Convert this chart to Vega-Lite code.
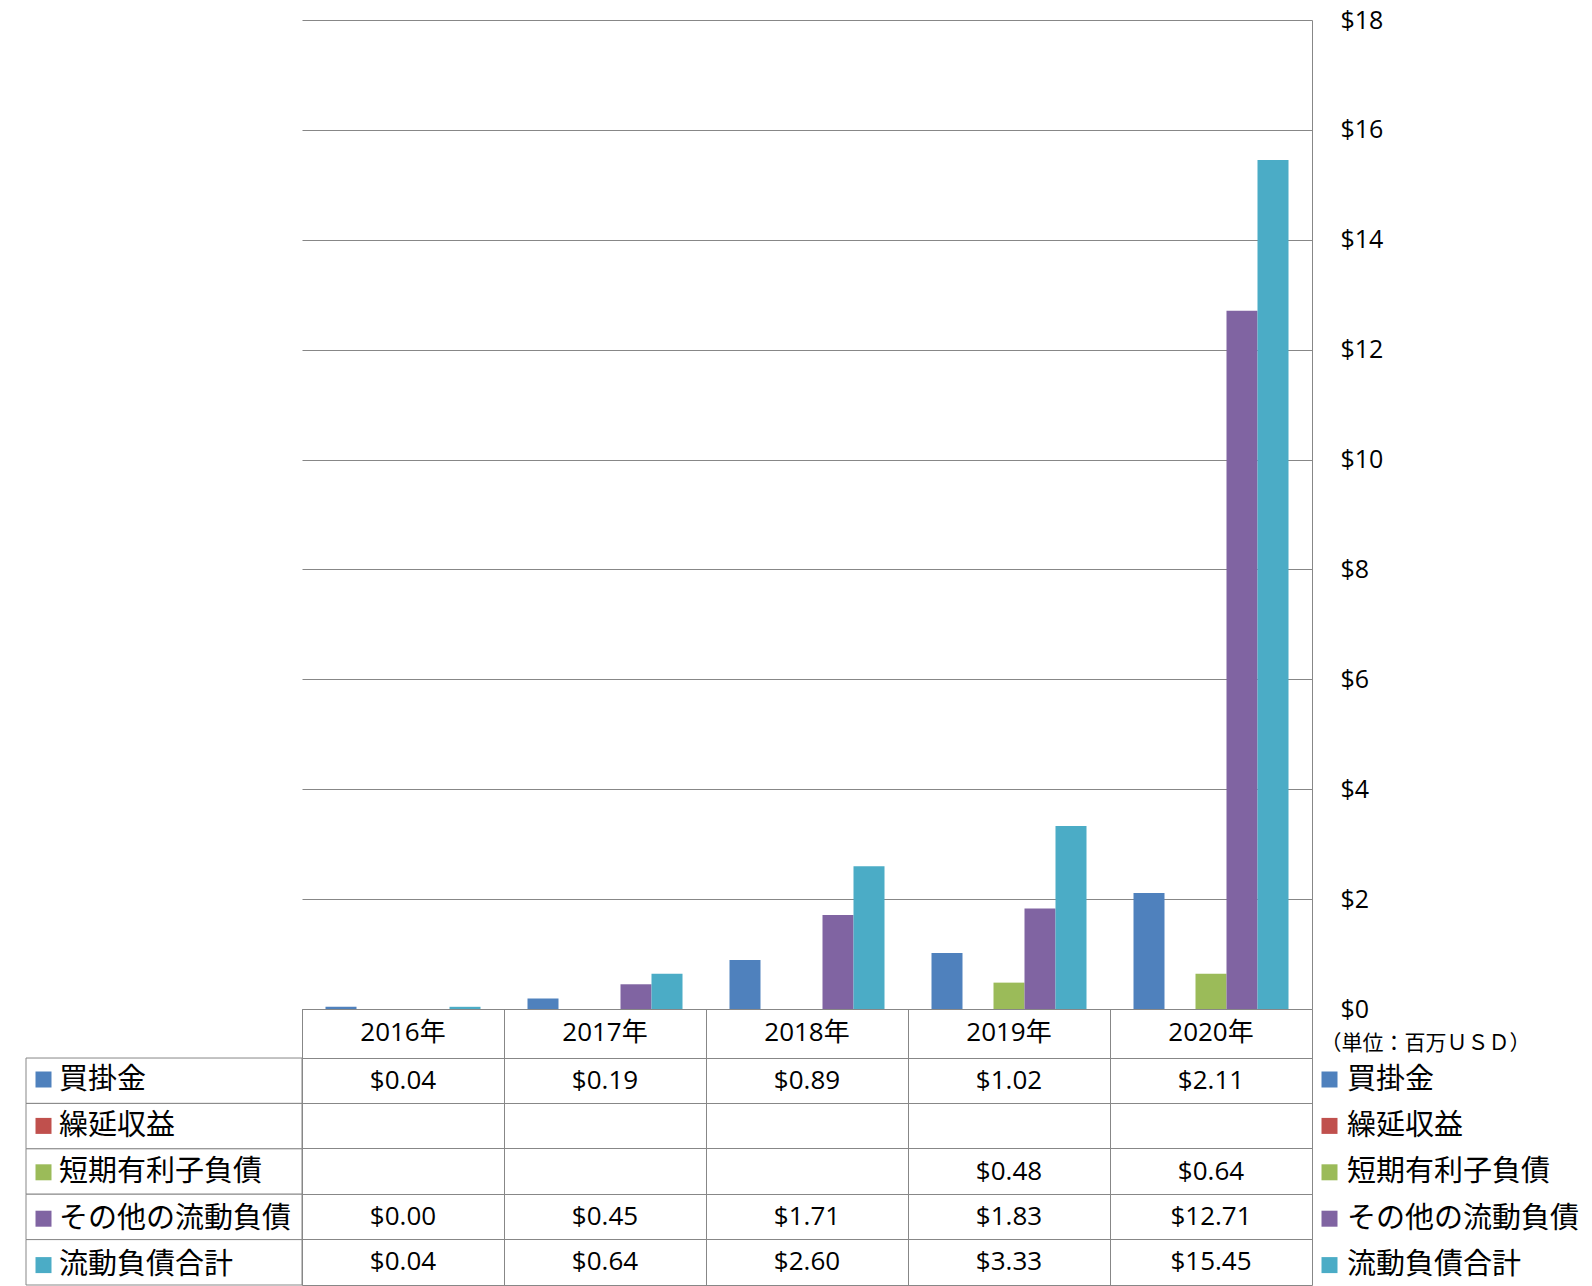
{
  "$schema": "https://vega.github.io/schema/vega-lite/v6.json",
  "padding": {"left": 25, "top": 8, "right": 0, "bottom": 2},
  "background": "white",
  "config": {
    "font": "Open Sans, Noto Sans CJK JP",
    "view": {"stroke": null},
    "axis": {"labelColor": "black", "titleColor": "black"}
  },
  "datasets": {
    "fin": [
      {"year": "2016年", "series": "買掛金", "value": 0.04},
      {"year": "2016年", "series": "その他の流動負債", "value": 0.0},
      {"year": "2016年", "series": "流動負債合計", "value": 0.04},
      {"year": "2017年", "series": "買掛金", "value": 0.19},
      {"year": "2017年", "series": "その他の流動負債", "value": 0.45},
      {"year": "2017年", "series": "流動負債合計", "value": 0.64},
      {"year": "2018年", "series": "買掛金", "value": 0.89},
      {"year": "2018年", "series": "その他の流動負債", "value": 1.71},
      {"year": "2018年", "series": "流動負債合計", "value": 2.6},
      {"year": "2019年", "series": "買掛金", "value": 1.02},
      {"year": "2019年", "series": "短期有利子負債", "value": 0.48},
      {"year": "2019年", "series": "その他の流動負債", "value": 1.83},
      {"year": "2019年", "series": "流動負債合計", "value": 3.33},
      {"year": "2020年", "series": "買掛金", "value": 2.11},
      {"year": "2020年", "series": "短期有利子負債", "value": 0.64},
      {"year": "2020年", "series": "その他の流動負債", "value": 12.71},
      {"year": "2020年", "series": "流動負債合計", "value": 15.45}
    ],
    "rows": [
      {"series": "買掛金"},
      {"series": "繰延収益"},
      {"series": "短期有利子負債"},
      {"series": "その他の流動負債"},
      {"series": "流動負債合計"}
    ]
  },
  "columns": 2,
  "align": "each",
  "bounds": "flush",
  "spacing": 0,
  "resolve": {"scale": {"color": "independent"}, "legend": {"color": "independent"}},
  "concat": [
    {
      "width": 276,
      "height": 989,
      "view": {"stroke": null},
      "data": {"values": []},
      "mark": {"type": "text"},
      "encoding": {}
    },
    {
      "width": 1010,
      "height": 989,
      "view": {"stroke": null},
      "data": {"name": "fin"},
      "mark": {"type": "bar"},
      "encoding": {
        "x": {
          "field": "year", "type": "nominal",
          "scale": {"type": "band", "domain": ["2016年", "2017年", "2018年", "2019年", "2020年"], "paddingInner": 0, "paddingOuter": 0},
          "axis": {"orient": "bottom", "title": null, "domain": false, "ticks": false, "grid": false, "labelAngle": 0, "labelPadding": 10, "labelFontSize": 26, "labelColor": "black"}
        },
        "xOffset": {
          "field": "series", "type": "nominal",
          "scale": {"domain": ["買掛金", "繰延収益", "短期有利子負債", "その他の流動負債", "流動負債合計"], "paddingInner": 0, "paddingOuter": 0.758}
        },
        "y": {
          "field": "value", "type": "quantitative",
          "scale": {"domain": [0, 18], "nice": false},
          "axis": {
            "orient": "right",
            "values": [0, 2, 4, 6, 8, 10, 12, 14, 16, 18],
            "format": "$.0f",
            "grid": true, "gridColor": "#878787", "gridOpacity": 1,
            "domain": true, "domainColor": "#878787",
            "ticks": false,
            "labelPadding": 28, "labelFontSize": 25, "labelAlign": "left", "labelBaseline": "middle", "labelColor": "black",
            "title": "（単位：百万ＵＳＤ）",
            "titleFont": "Noto Sans CJK JP", "titleFontSize": 21, "titleFontWeight": "normal", "titleColor": "black",
            "titleAngle": 0, "titleAlign": "left", "titleBaseline": "middle",
            "titleX": 8, "titleY": 1023
          }
        },
        "color": {
          "field": "series", "type": "nominal",
          "scale": {"domain": ["買掛金", "繰延収益", "短期有利子負債", "その他の流動負債", "流動負債合計"], "range": ["#4F81BD", "#C0504D", "#9BBB59", "#8064A2", "#4BACC6"]},
          "legend": {
            "orient": "none", "legendX": 1013, "legendY": 1045,
            "title": null, "padding": 0,
            "symbolType": "square", "symbolSize": 256, "symbolStrokeWidth": 0,
            "labelFont": "Noto Sans CJK JP", "labelFontSize": 29, "labelColor": "black",
            "labelOffset": 3, "labelLimit": 400, "rowPadding": 16.4
          }
        }
      }
    },
    {
      "width": 276,
      "height": 276,
      "view": {"stroke": null},
      "data": {"name": "rows"},
      "layer": [
        {
          "mark": {"type": "rect", "fill": "white", "stroke": "#878787", "strokeWidth": 1},
          "encoding": {
            "y": {
              "field": "series", "type": "nominal",
              "scale": {"type": "band", "domain": ["買掛金", "繰延収益", "短期有利子負債", "その他の流動負債", "流動負債合計"], "paddingInner": 0, "paddingOuter": 0.54, "align": 1},
              "axis": null
            }
          }
        },
        {
          "mark": {"type": "square", "opacity": 0},
          "encoding": {
            "y": {
              "field": "series", "type": "nominal",
              "scale": {"type": "band", "domain": ["買掛金", "繰延収益", "短期有利子負債", "その他の流動負債", "流動負債合計"], "paddingInner": 0, "paddingOuter": 0.54, "align": 1},
              "axis": null
            },
            "color": {
              "field": "series", "type": "nominal",
              "scale": {"domain": ["買掛金", "繰延収益", "短期有利子負債", "その他の流動負債", "流動負債合計"], "range": ["#4F81BD", "#C0504D", "#9BBB59", "#8064A2", "#4BACC6"]},
              "legend": {
                "orient": "none", "legendX": 3, "legendY": 56,
                "title": null, "padding": 0,
                "symbolType": "square", "symbolSize": 256, "symbolStrokeWidth": 0, "symbolOpacity": 1,
                "labelFont": "Noto Sans CJK JP", "labelFontSize": 29, "labelColor": "black",
                "labelOffset": 1, "labelLimit": 400, "rowPadding": 16.4
              }
            }
          }
        }
      ]
    },
    {
      "width": 1010,
      "height": 276,
      "view": {"stroke": "#878787", "strokeWidth": 1},
      "data": {"name": "fin"},
      "mark": {"type": "text", "fontSize": 26, "color": "black", "baseline": "middle", "align": "center"},
      "encoding": {
        "x": {
          "field": "year", "type": "nominal",
          "scale": {"type": "band", "domain": ["2016年", "2017年", "2018年", "2019年", "2020年"], "paddingInner": 0, "paddingOuter": 0},
          "axis": {"orient": "bottom", "labels": false, "ticks": false, "domain": false, "title": null, "grid": true, "gridColor": "#878787", "gridOpacity": 1, "bandPosition": 0}
        },
        "y": {
          "field": "series", "type": "nominal",
          "scale": {"type": "band", "domain": ["買掛金", "繰延収益", "短期有利子負債", "その他の流動負債", "流動負債合計"], "paddingInner": 0, "paddingOuter": 0.54, "align": 1},
          "axis": {"labels": false, "ticks": false, "domain": false, "title": null, "grid": true, "gridColor": "#878787", "gridOpacity": 1, "bandPosition": 0}
        },
        "text": {"field": "value", "type": "quantitative", "format": "$.2f"}
      }
    }
  ]
}
